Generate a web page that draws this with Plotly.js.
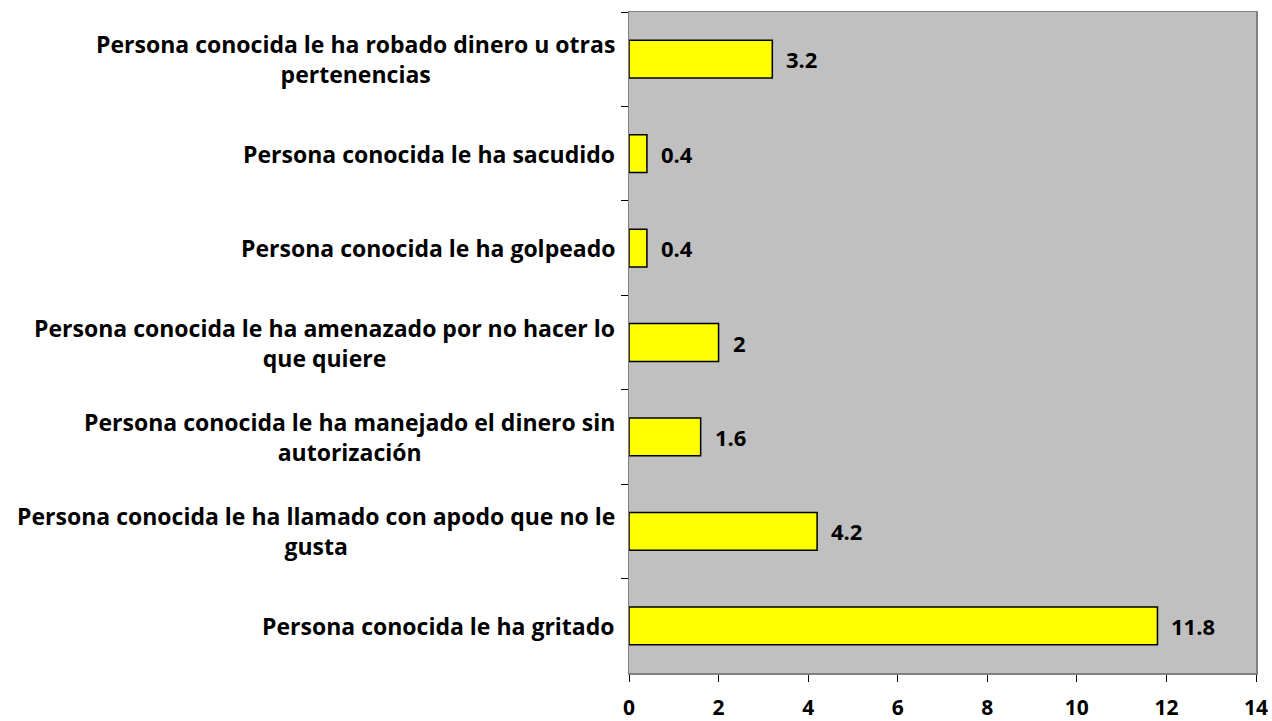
<!DOCTYPE html>
<html><head><meta charset="utf-8">
<script src="https://cdn.plot.ly/plotly-3.0.1.min.js"></script>
<style>html,body{margin:0;padding:0;background:#fff}#chart{width:1272px;height:721px}</style>
</head><body><div id="chart"></div>
<script>
const categories = [
  "Persona conocida le ha robado dinero u otras<br>pertenencias",
  "Persona conocida le ha sacudido",
  "Persona conocida le ha golpeado",
  "Persona conocida le ha amenazado por no hacer lo<br>que quiere",
  "Persona conocida le ha manejado el dinero sin<br>autorización",
  "Persona conocida le ha llamado con apodo que no le<br>gusta",
  "Persona conocida le ha gritado"
];
const values = [3.2, 0.4, 0.4, 2, 1.6, 4.2, 11.8];
const xTicks = [0, 2, 4, 6, 8, 10, 12, 14];

const FONT = "'Open Sans', sans-serif";
const trace = {
  type: 'bar', orientation: 'h',
  x: values, y: categories,
  width: 0.4,
  marker: {color: '#FFFF00', line: {color: '#000000', width: 1.5}},
  hoverinfo: 'none'
};
const annotations = [];
categories.forEach((c, i) => {
  annotations.push({
    xref: 'paper', yref: 'y', x: 0, y: c, xanchor: 'right', yanchor: 'middle',
    xshift: -12, text: '<b>' + c + '</b>', showarrow: false, align: 'center',
    font: {family: FONT, size: 23, color: '#000'}
  });
  annotations.push({
    xref: 'x', yref: 'y', x: values[i], y: c, xanchor: 'left', yanchor: 'middle',
    xshift: 12, text: '<b>' + values[i] + '</b>', showarrow: false,
    font: {family: FONT, size: 22, color: '#000'}
  });
});
const layout = {
  width: 1272, height: 721,
  margin: {l: 629, r: 16, t: 12, b: 48},
  paper_bgcolor: '#ffffff', plot_bgcolor: '#C0C0C0',
  showlegend: false,
  xaxis: {
    range: [0, 14], tickvals: xTicks, ticktext: xTicks.map(v => '<b>' + v + '</b>'),
    showgrid: false, zeroline: false, ticks: 'outside', ticklen: 7, tickcolor: '#000',
    ticklabelstandoff: 8,
    showline: true, linecolor: '#808080', linewidth: 1.5, mirror: true,
    tickfont: {family: FONT, size: 21, color: '#000'}, fixedrange: true
  },
  yaxis: {
    type: 'category', autorange: 'reversed', tickson: 'boundaries',
    showticklabels: false, ticks: 'outside', ticklen: 7, tickcolor: '#000',
    showgrid: false, zeroline: false,
    showline: true, linecolor: '#808080', linewidth: 1.5, mirror: true, fixedrange: true
  },
  annotations: annotations
};
Plotly.newPlot('chart', [trace], layout, {displayModeBar: false, staticPlot: true});
</script></body></html>
